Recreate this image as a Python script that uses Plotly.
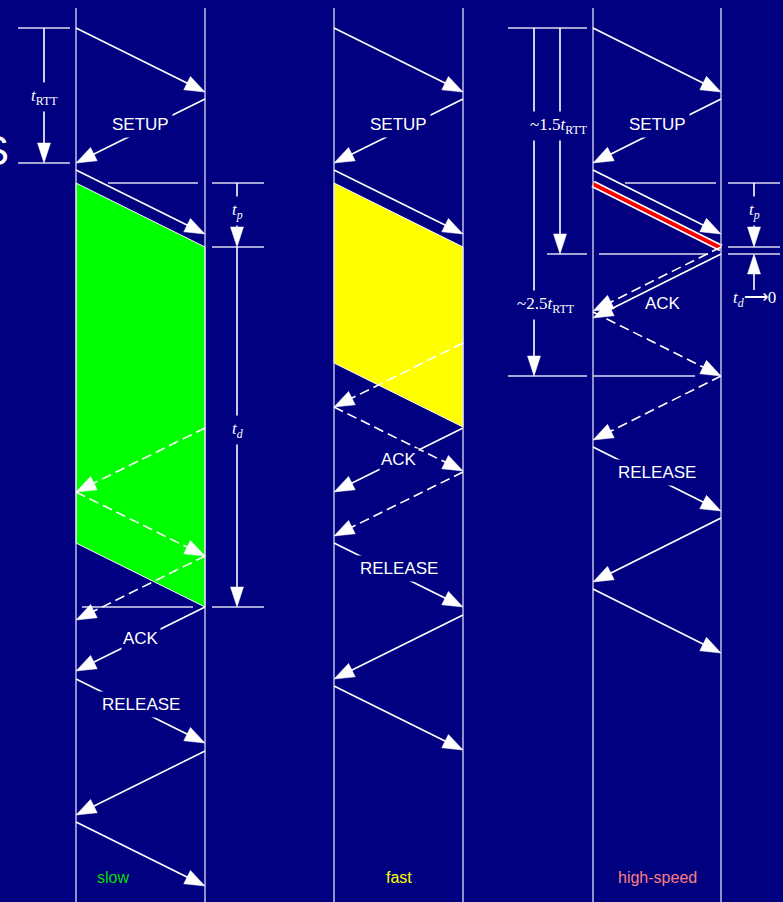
import numpy as np
import plotly.graph_objects as go

# ---------------- data (time measured downward, one transfer = TRAVEL) ----------------
panels = ["slow", "fast", "high-speed"]
TRAVEL = 64

slow_msg_t = [28, 99, 170, 428, 492, 556, 607, 679, 751, 822]
slow_msg_dir = ["R", "L", "R", "L", "R", "L", "L", "R", "L", "R"]
slow_msg_dash = [0, 0, 0, 1, 1, 1, 0, 0, 0, 0]
slow_msg_label = ["", "SETUP", "", "", "", "", "ACK", "RELEASE", "", ""]

fast_msg_t = [28, 99, 170, 343, 407, 428, 472, 543, 615, 686]
fast_msg_dir = ["R", "L", "R", "L", "R", "L", "L", "R", "L", "R"]
fast_msg_dash = [0, 0, 0, 1, 1, 0, 1, 0, 0, 0]
fast_msg_label = ["", "SETUP", "", "", "", "ACK", "", "RELEASE", "", ""]

hs_msg_t = [28, 99, 170, 247, 254, 312, 376, 447, 518, 589]
hs_msg_dir = ["R", "L", "R", "L", "L", "R", "L", "R", "L", "R"]
hs_msg_dash = [0, 0, 0, 1, 0, 1, 1, 0, 0, 0]
hs_msg_label = ["", "SETUP", "", "", "ACK", "", "", "RELEASE", "", ""]

burst_start = [183, 183, 184]
burst_len = [360, 180, 0]

# ---------------- layout / styles ----------------
W, H = 783, 902
BG = "#000080"
LANE_L = [76, 334, 593]
LANE_R = [205, 463, 721]
LANE_TOP = 8
burst_color = ["#00FF00", "#FFFF00", "#FF0000"]
panel_text_color = ["#00DD00", "#FFFF00", "#FF7F7F"]
LANE_COL = "#DCDCF0"
SANS = "Liberation Sans, Arial, sans-serif"
SERIF = "Liberation Serif, Times New Roman, serif"
HEAD_L, HEAD_W = 20, 7.5

msgs = [
    (slow_msg_t, slow_msg_dir, slow_msg_dash, slow_msg_label),
    (fast_msg_t, fast_msg_dir, fast_msg_dash, fast_msg_label),
    (hs_msg_t, hs_msg_dir, hs_msg_dash, hs_msg_label),
]

fig = go.Figure()

solid_x, solid_y = [], []
dash_x, dash_y = [], []
head_x, head_y = [], []
ref_x, ref_y = [], []
annotations = []


def head(x0, y0, x1, y1, L=HEAD_L, hw=HEAD_W):
    d = np.array([x1 - x0, y1 - y0], float)
    u = d / np.hypot(*d)
    n = np.array([-u[1], u[0]])
    base = np.array([x1, y1]) - L * u
    p1 = base + hw * n
    p2 = base - hw * n
    head_x.extend([x1, p1[0], p2[0], x1, None])
    head_y.extend([y1, p1[1], p2[1], y1, None])
    return base


def arrow(x0, y0, x1, y1, dashed=False):
    base = head(x0, y0, x1, y1)
    xs, ys = (dash_x, dash_y) if dashed else (solid_x, solid_y)
    xs.extend([x0, base[0] + (x1 - base[0]) * 0.3, None])
    ys.extend([y0, base[1] + (y1 - base[1]) * 0.3, None])


def hline(y, x0, x1):
    ref_x.extend([x0, x1, None])
    ref_y.extend([y, y, None])


def label(x, y, text, size=17, color="white", font=SANS, bg=True, pad=2, xanchor="center"):
    annotations.append(dict(
        x=x, y=y, xref="x", yref="y", text=text, showarrow=False,
        font=dict(family=font, size=size, color=color),
        bgcolor=BG if bg else "rgba(0,0,0,0)", borderpad=pad, xanchor=xanchor,
        yanchor="middle"))


def vdim(x, y0, y1, text=None, ly=None, lx=None):
    # vertical dimension arrow from y0 to tip at y1
    base = head(x, y0, x, y1, L=20, hw=6.5)
    solid_x.extend([x, x, None])
    solid_y.extend([y0, base[1], None])
    if text:
        label(lx if lx is not None else x, ly, text, size=17, font=SERIF, pad=3)


# bursts (data transfer periods)
for i in range(3):
    xl, xr = LANE_L[i], LANE_R[i]
    s, L = burst_start[i], burst_len[i]
    if L > 0:
        fig.add_trace(go.Scatter(
            x=[xl, xr, xr, xl, xl], y=[s, s + TRAVEL, s + TRAVEL + L, s + L, s],
            mode="lines", fill="toself", fillcolor=burst_color[i],
            line=dict(color="white", width=1), hoverinfo="skip"))
    else:
        fig.add_trace(go.Scatter(x=[xl, xr], y=[s, s + TRAVEL], mode="lines",
                                 line=dict(color="white", width=7), hoverinfo="skip"))
        fig.add_trace(go.Scatter(x=[xl, xr], y=[s, s + TRAVEL], mode="lines",
                                 line=dict(color=burst_color[i], width=4), hoverinfo="skip"))

# lanes
lane_x, lane_y = [], []
for i in range(3):
    for xv in (LANE_L[i], LANE_R[i]):
        lane_x.extend([xv, xv, None])
        lane_y.extend([LANE_TOP, H + 2, None])

# messages
for i, (ts, ds, dsh, lbs) in enumerate(msgs):
    xl, xr = LANE_L[i], LANE_R[i]
    for t, d, dd, lb in zip(ts, ds, dsh, lbs):
        if d == "R":
            x0, x1 = xl, xr
        else:
            x0, x1 = xr, xl
        arrow(x0, t, x1, t + TRAVEL, dashed=bool(dd))
        if lb:
            mx, my = (xl + xr) / 2, t + TRAVEL / 2
            if lb == "ACK":
                if i == 2:
                    label(mx + 6, my + 17, lb, bg=False)
                else:
                    label(mx, my - 1, lb, pad=1)
            else:
                label(mx, my - 7, lb, pad=3)
    label((xl + xr) / 2 - (28 if i == 0 else 0), 877, panels[i],
          color=panel_text_color[i], size=16, bg=False)

# ---- dimension marks: slow panel ----
setup_arrival = slow_msg_t[1] + TRAVEL
hline(slow_msg_t[0], 18, 70)
hline(setup_arrival, 18, 70)
vdim(44, slow_msg_t[0], setup_arrival, "<i>t</i><sub>RTT</sub>", 97)
b0 = burst_start[0]
hline(b0, 108, 198)
hline(b0, 212, 264)
hline(b0 + TRAVEL, 212, 264)
vdim(237, b0, b0 + TRAVEL, "<i>t<sub>p</sub></i>", 211)
end0 = b0 + TRAVEL + burst_len[0]
hline(end0, 82, 193)
hline(end0, 212, 264)
vdim(237, b0 + TRAVEL, end0, "<i>t<sub>d</sub></i>", 430)

# ---- dimension marks: high-speed panel ----
t_start = hs_msg_t[0]
t_15 = hs_msg_t[4]
t_25 = hs_msg_t[5] + TRAVEL
hline(t_start, 508, 587)
hline(183, 625, 716)
hline(183, 728, 780)
hline(183 + TRAVEL, 728, 780)
hline(t_15, 547, 587)
hline(t_15, 599, 708)
hline(t_15, 728, 780)
hline(t_25, 508, 587)
hline(t_25, 593, 695)
vdim(560, t_start, t_15, "~1.5<i>t</i><sub>RTT</sub>", 126, lx=559)
vdim(534, t_start, t_25, "~2.5<i>t</i><sub>RTT</sub>", 305, lx=546)
vdim(754, 183, 183 + TRAVEL, "<i>t<sub>p</sub></i>", 211)
vdim(754, 290, t_15)
label(754, 299, "<i>t<sub>d</sub></i>⟶0", font=SERIF, bg=False)

# clipped slide-title letter at left edge
annotations.append(dict(x=11, y=150, xref="x", yref="y", text="S", showarrow=False,
                        xanchor="right", yanchor="middle",
                        font=dict(family=SANS, size=42, color="white")))

fig.add_trace(go.Scatter(x=lane_x, y=lane_y, mode="lines",
                         line=dict(color=LANE_COL, width=1.3), hoverinfo="skip"))
fig.add_trace(go.Scatter(x=ref_x, y=ref_y, mode="lines",
                         line=dict(color=LANE_COL, width=1.3), hoverinfo="skip"))
fig.add_trace(go.Scatter(x=solid_x, y=solid_y, mode="lines",
                         line=dict(color="white", width=1.6), hoverinfo="skip"))
fig.add_trace(go.Scatter(x=dash_x, y=dash_y, mode="lines",
                         line=dict(color="white", width=1.6, dash="10px,5px"), hoverinfo="skip"))
fig.add_trace(go.Scatter(x=head_x, y=head_y, mode="lines", fill="toself",
                         fillcolor="white", line=dict(color="white", width=0.5),
                         hoverinfo="skip"))

fig.update_layout(
    width=W, height=H, margin=dict(l=0, r=0, t=0, b=0),
    paper_bgcolor=BG, plot_bgcolor=BG, showlegend=False,
    xaxis=dict(range=[0, W], visible=False, fixedrange=True),
    yaxis=dict(range=[H, 0], visible=False, fixedrange=True),
    annotations=annotations,
)

fig.write_html("out.html", config={"displayModeBar": False},
               post_script="document.body.style.margin='0';")
